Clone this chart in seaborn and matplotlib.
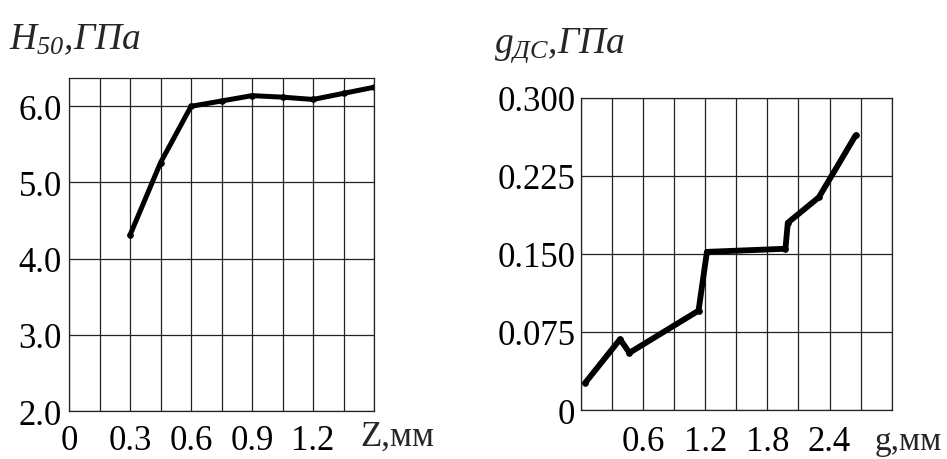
import matplotlib
matplotlib.use("Agg")
import matplotlib.pyplot as plt
import seaborn as sns
import numpy as np
import pandas as pd

# ---- data ----
z_mm = [0.3, 0.45, 0.6, 0.75, 0.9, 1.05, 1.2, 1.35, 1.5]
h50_gpa = [4.31, 5.26, 6.0, 6.07, 6.14, 6.12, 6.09, 6.17, 6.25]

g_mm = [0.04, 0.377, 0.468, 1.135, 1.216, 1.974, 1.997, 2.297, 2.652]
g_dc_gpa = [0.026, 0.068, 0.055, 0.0955, 0.152, 0.155, 0.180, 0.2045, 0.264]

left_xticks = [0, 0.15, 0.3, 0.45, 0.6, 0.75, 0.9, 1.05, 1.2, 1.35, 1.5]
left_xlabels = ["0", "", "0.3", "", "0.6", "", "0.9", "", "1.2", "", ""]
left_yticks = [2.0, 3.0, 4.0, 5.0, 6.0]
left_ylabels = ["2.0", "3.0", "4.0", "5.0", "6.0"]

right_xticks = [0, 0.3, 0.6, 0.9, 1.2, 1.5, 1.8, 2.1, 2.4, 2.7, 3.0]
right_xlabels = ["", "", "0.6", "", "1.2", "", "1.8", "", "2.4", "", ""]
right_yticks = [0, 0.075, 0.150, 0.225, 0.300]
right_ylabels = ["0", "0.075", "0.150", "0.225", "0.300"]

sns.set_theme(style="white")
plt.rcParams['font.family'] = ['Liberation Serif', 'DejaVu Serif']
plt.rcParams['mathtext.fontset'] = 'custom'
plt.rcParams['mathtext.rm'] = 'Liberation Serif:italic'
plt.rcParams['mathtext.it'] = 'Liberation Serif:italic'

fig = plt.figure(figsize=(9.47, 4.6), dpi=100)
ax1 = fig.add_axes([0.0729, 0.1043, 0.3221, 0.7237])
ax2 = fig.add_axes([0.6135, 0.1065, 0.3281, 0.6785])

FS = 25
FS_T = 27
LW_GRID = 0.9

df1 = pd.DataFrame({"x": z_mm, "y": h50_gpa})
sns.lineplot(data=df1, x="x", y="y", ax=ax1, color="black", lw=3.6,
             sort=False, estimator=None, marker="o", markersize=4,
             markeredgecolor="black")
ax1.set_xlim(0, 1.5)
ax1.set_ylim(2.0, 6.37)
ax1.set_xticks(left_xticks)
ax1.set_xticklabels(left_xlabels)
ax1.set_yticks(left_yticks)
ax1.set_yticklabels(left_ylabels)
ax1.tick_params(axis="x", length=0, pad=9, labelsize=FS)
ax1.tick_params(axis="y", length=0, pad=5, labelsize=FS)
ax1.text(0.955, -0.075, "Z,мм", transform=ax1.transAxes, fontsize=FS,
         ha="left", va="center")
ax1.text(-0.196, 1.118, r"$H_{50}$,ГПа", transform=ax1.transAxes,
         fontsize=FS_T, fontstyle="italic", ha="left", va="center")

df2 = pd.DataFrame({"x": g_mm, "y": g_dc_gpa})
sns.lineplot(data=df2, x="x", y="y", ax=ax2, color="black", lw=4.2,
             sort=False, estimator=None, marker="o", markersize=4,
             markeredgecolor="black")
ax2.set_xlim(0, 3.0)
ax2.set_ylim(0, 0.300)
ax2.set_xticks(right_xticks)
ax2.set_xticklabels(right_xlabels)
ax2.set_yticks(right_yticks)
ax2.set_yticklabels(right_ylabels)
ax2.tick_params(axis="x", length=0, pad=11, labelsize=FS)
ax2.tick_params(axis="y", length=0, pad=4, labelsize=FS)
ax2.text(1.163, -0.10, "g,мм", transform=ax2.transAxes, fontsize=24,
         ha="right", va="center")
ax2.text(-0.28, 1.17, r"$g_{ДС}$,ГПа", transform=ax2.transAxes,
         fontsize=FS_T, fontstyle="italic", ha="left", va="center")

for ax in (ax1, ax2):
    ax.set_xlabel("")
    ax.set_ylabel("")
    ax.grid(True, color="#222222", lw=LW_GRID)
    ax.set_axisbelow(True)
    for s in ax.spines.values():
        s.set_visible(True)
        s.set_color("#222222")
        s.set_linewidth(LW_GRID)
    for lab in ax.get_xticklabels() + ax.get_yticklabels():
        lab.set_color("black")

fig.savefig("out.png", dpi=100, facecolor="white")
